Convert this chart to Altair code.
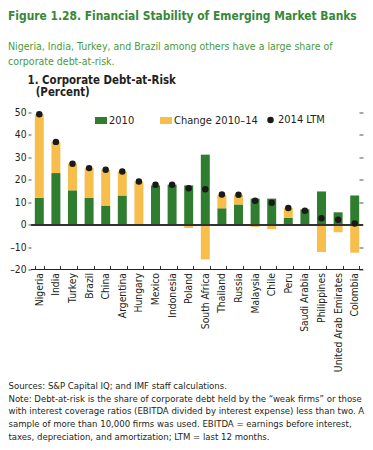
import altair as alt
import pandas as pd

countries = ["Nigeria", "India", "Turkey", "Brazil", "China", "Argentina", "Hungary",
             "Mexico", "Indonesia", "Poland", "South Africa", "Thailand", "Russia",
             "Malaysia", "Chile", "Peru", "Saudi Arabia", "Philippines",
             "United Arab Emirates", "Colombia"]
v2010 = [12.0, 23.0, 15.3, 12.0, 8.5, 13.0, 0.0, 17.5, 17.8, 17.5, 31.2, 7.3, 9.0,
         11.6, 11.6, 3.0, 6.8, 14.8, 5.5, 13.0]
change = [37.2, 14.0, 11.9, 13.2, 16.0, 10.7, 19.2, 0.3, 0.0, -1.5, -15.5, 6.0, 4.3,
          -1.0, -2.0, 4.5, -0.6, -12.2, -3.4, -12.5]
ltm = [49.2, 36.9, 27.2, 25.2, 24.5, 23.7, 19.2, 17.8, 17.8, 16.2, 15.8, 13.4, 13.3,
       10.7, 9.8, 7.4, 6.2, 2.9, 2.2, 0.5]
series_names = ["2010", "Change 2010\u201314"]
ltm_name = "2014 LTM"
y_ticks = [-20, -10, 0, 10, 20, 30, 40, 50]

title_lines = ["Figure 1.28. Financial Stability of Emerging Market Banks"]
subtitle_lines = ["Nigeria, India, Turkey, and Brazil among others have a large share of",
                  "corporate debt-at-risk."]
panel_lines = ["1. Corporate Debt-at-Risk", "\u200b\u2002\u2009\u200a(Percent)"]
note_lines = [
    "Sources: S&P Capital IQ; and IMF staff calculations.",
    "Note: Debt-at-risk is the share of corporate debt held by the \u201cweak firms\u201d or those",
    "with interest coverage ratios (EBITDA divided by interest expense) less than two. A",
    "sample of more than 10,000 firms was used. EBITDA = earnings before interest,",
    "taxes, depreciation, and amortization; LTM = last 12 months.",
]

rows = []
for c, a, b in zip(countries, v2010, change):
    rows.append({"country": c, "series": series_names[0], "value": a, "ord": 0})
    rows.append({"country": c, "series": series_names[1], "value": b, "ord": 1})
bars_df = pd.DataFrame(rows)
dots_df = pd.DataFrame({"country": countries, "ltm": ltm, "series": [ltm_name] * len(countries)})

FONT = "DejaVu Sans Condensed, sans-serif"
GREEN = "#2f7d2e"
YELLOW = "#f7be4b"
TXT = "#231f20"

W, H = 332, 157

yscale = alt.Scale(domain=[-20, 50], nice=False, zero=False)
xscale = alt.Scale(domain=countries, paddingInner=0.46, paddingOuter=0.23)

x_enc = alt.X(
    "country:N", scale=xscale, sort=countries,
    axis=alt.Axis(
        orient="bottom", labelAngle=-90, labelFont=FONT, labelFontSize=10.3,
        labelColor=TXT, labelPadding=3, tickBand="extent", tickSize=4, offset=-4,
        tickColor="#333", domain=False, labelLimit=200,
        title=note_lines, titleX=-23, titleY=123, titleAlign="left",
        titleAnchor="start", titleBaseline="alphabetic", titleFont=FONT,
        titleFontSize=9.5, titleFontWeight="normal", titleColor=TXT,
        titleLineHeight=12.7, titleLimit=500,
    ),
)

bars = alt.Chart(bars_df).mark_bar().encode(
    x=x_enc,
    y=alt.Y(
        "value:Q", scale=yscale, stack="zero",
        axis=alt.Axis(
            orient="left", values=y_ticks, format="d", tickSize=3, domain=False,
            grid=False, labelFont=FONT, labelFontSize=10.2, labelColor=TXT,
            labelPadding=2, tickColor="#555",
            labelExpr="replace(datum.label, '\u2212', '\u2013')",
            title=panel_lines, titleAngle=0, titleAlign="left",
            titleBaseline="alphabetic", titleX=-4, titleY=-29.2, titleFont=FONT,
            titleFontSize=11.4, titleFontWeight="bold", titleColor=TXT,
            titleLineHeight=12.5,
        ),
    ),
    color=alt.Color(
        "series:N", scale=alt.Scale(domain=series_names, range=[GREEN, YELLOW]),
        legend=alt.Legend(
            title=None, orient="none", legendX=64, legendY=2, direction="horizontal",
            symbolType="M-1,-0.58H1V0.58H-1Z", symbolSize=144, symbolStrokeWidth=0,
            labelFont=FONT, labelFontSize=11, labelColor=TXT, labelOffset=2,
            columnPadding=25, padding=0,
        ),
    ),
    order=alt.Order("ord:Q"),
)

zero_rule = alt.Chart(bars_df).mark_rule(color="#333", strokeWidth=1).encode(
    y=alt.Y(datum=0, scale=yscale, axis=None)
)
bottom_rule = alt.Chart(bars_df).mark_rule(color="#222", strokeWidth=1).encode(
    y=alt.Y(datum=-20, scale=yscale, axis=None)
)

dots = alt.Chart(dots_df).mark_point(filled=True, size=42, opacity=1, color="#1a1a1a").encode(
    x=x_enc,
    y=alt.Y(
        "ltm:Q", scale=yscale,
        axis=alt.Axis(orient="right", values=y_ticks, labels=False, tickSize=4,
                      offset=-4, domain=False, grid=False, tickColor="#555",
                      title=None),
    ),
    shape=alt.Shape(
        "series:N", scale=alt.Scale(domain=[ltm_name], range=["circle"]),
        legend=alt.Legend(
            title=None, orient="none", legendX=234, legendY=2, symbolSize=42,
            symbolFillColor="#1a1a1a", symbolStrokeWidth=0, labelFont=FONT,
            labelFontSize=11, labelColor=TXT, labelOffset=2, padding=0,
        ),
    ),
)

chart = alt.layer(bars, bottom_rule, zero_rule, dots).resolve_scale(
    y="independent"
).properties(
    width=W, height=H,
    autosize=alt.AutoSizeParams(type="none"),
    padding={"left": 23, "top": 104.5, "right": 2, "bottom": 172},
    title=alt.TitleParams(
        text=title_lines, subtitle=subtitle_lines, anchor="start", frame="group",
        dx=-23, font=FONT, fontSize=11.9, fontWeight="bold", color="#36873a",
        subtitleFont=FONT, subtitleFontSize=10.5, subtitleColor="#4a9a3e",
        subtitleLineHeight=15, subtitlePadding=19, offset=6,
    ),
).configure_view(stroke=None)

chart.save("out.html", embed_options={"renderer": "svg", "actions": False})
